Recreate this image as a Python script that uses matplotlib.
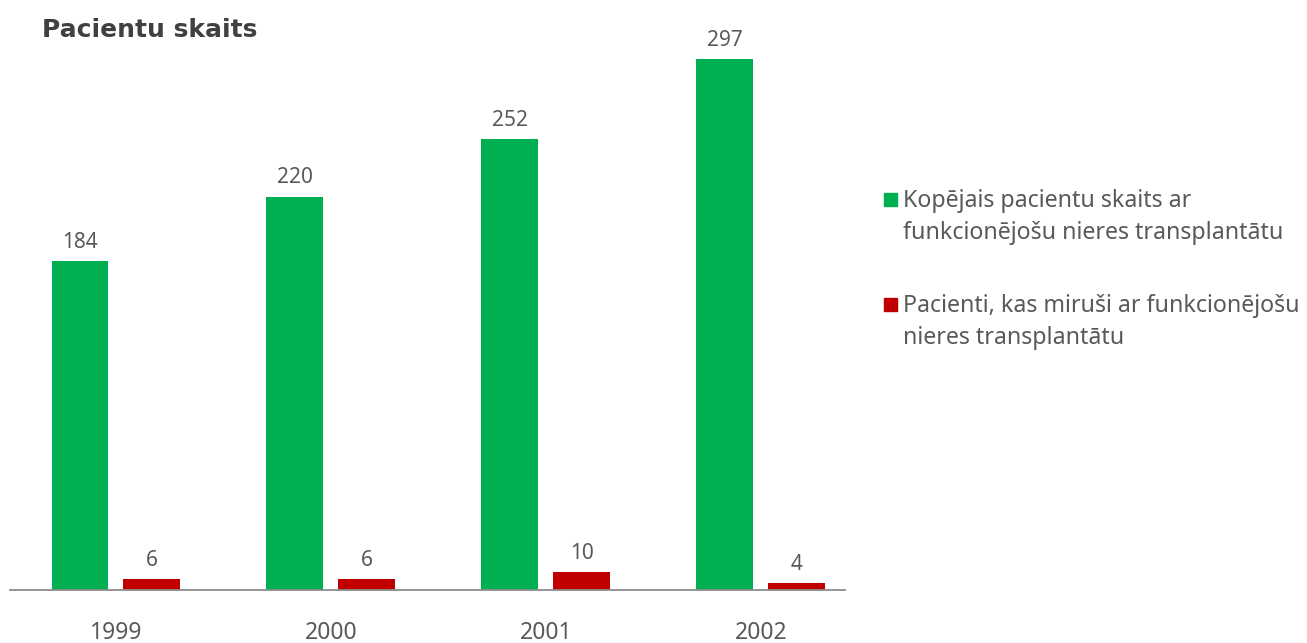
import matplotlib.pyplot as plt
from matplotlib.patches import Rectangle
import numpy as np

plt.rcParams['font.family'] = ['Noto Sans', 'DejaVu Sans']

# dati: pacientu skaits pa gadiem
gadi = ["1999", "2000", "2001", "2002"]
kopejais = [184, 220, 252, 297]
mirusi = [6, 6, 10, 4]

leg_kopejais = ["Kopējais pacientu skaits ar", "funkcionējošu nieres transplantātu"]
leg_mirusi = ["Pacienti, kas miruši ar funkcionējošu", "nieres transplantātu"]

zala = "#00B050"
sarkana = "#C00000"
teksts = "#595959"

W, H = 1307, 643
fig = plt.figure(figsize=(W / 100, H / 100), dpi=100)

# asis: apakseja linija pie y=590 px, no x=10 lidz 845 px
ax = fig.add_axes([10 / W, 53 / H, 835 / W, 573 / H])

x = np.arange(len(gadi))
platums = 0.265
nobide = 0.1674

stabi1 = ax.bar(x - nobide, kopejais, platums, color=zala)
stabi2 = ax.bar(x + nobide, mirusi, platums, color=sarkana)

# vertibas virs stabiem
for stabi, vert in [(stabi1, kopejais), (stabi2, mirusi)]:
    for s, v in zip(stabi, vert):
        ax.annotate(str(v), (s.get_x() + s.get_width() / 2, v),
                    xytext=(0, 9.5), textcoords="offset points",
                    ha="center", va="baseline", fontsize=15, color=teksts)

ax.set_xlim(-0.493, 3.391)
ax.set_ylim(0, 320.5)
ax.set_xticks(x)
ax.set_xticklabels(gadi, fontsize=16.5, color=teksts)
ax.tick_params(axis="x", length=0, pad=22)
ax.set_yticks([])
for puse in ["left", "right", "top"]:
    ax.spines[puse].set_visible(False)
ax.spines["bottom"].set_color("#8c8c8c")
ax.spines["bottom"].set_linewidth(1.3)

# virsraksts
fig.text(42 / W, 1 - 37 / H, "Pacientu skaits", fontsize=18, fontweight="bold",
         family="DejaVu Sans", color="#404040", ha="left", va="baseline")

# legenda
def legendas_rinda(y_kvadr, rindas, krasa, y_baz):
    fig.add_artist(Rectangle((884 / W, 1 - (y_kvadr + 7) / H), 13 / W, 13 / H,
                             transform=fig.transFigure, color=krasa))
    for i, r in enumerate(rindas):
        fig.text(903 / W, 1 - (y_baz + 32 * i) / H, r, fontsize=16.7,
                 color=teksts, ha="left", va="baseline")

legendas_rinda(199, leg_kopejais, zala, 207)
legendas_rinda(304, leg_mirusi, sarkana, 312)

fig.savefig("out.png", dpi=100)
